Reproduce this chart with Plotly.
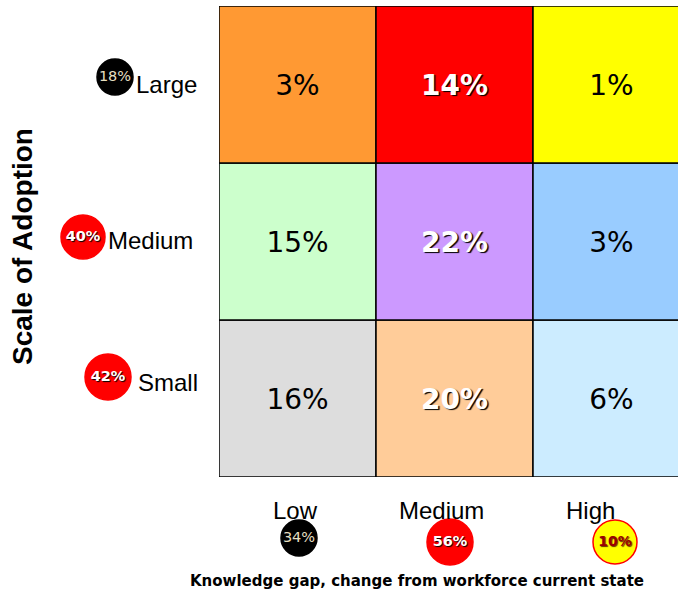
import plotly.graph_objects as go

# ---- data ----
rows = ["Small", "Medium", "Large"]          # bottom -> top
cols = ["Low", "Medium", "High"]
cell_values = [                               # rows bottom->top, cols left->right
    [16, 20, 6],
    [15, 22, 3],
    [3, 14, 1],
]
cell_colors = [
    ["#DDDDDD", "#FFCC99", "#CCECFF"],
    ["#CCFFCC", "#CC99FF", "#99CCFF"],
    ["#FF9933", "#FF0000", "#FFFF00"],
]
white_cells = {(2, 1), (1, 1), (0, 1)}        # cells with white shadowed text

row_totals = [42, 40, 18]                     # Small, Medium, Large
col_totals = [34, 56, 10]                     # Low, Medium, High

W, H = 678, 592
fig = go.Figure()

# ---- grid cells ----
shapes = []
for r in range(3):
    for c in range(3):
        shapes.append(dict(type="rect", xref="x", yref="y", x0=c, x1=c + 1, y0=r, y1=r + 1,
                           fillcolor=cell_colors[r][c], line=dict(color="black", width=1.5),
                           layer="below"))

bx, by, bt, wx, wy, wt = [], [], [], [], [], []
for r in range(3):
    for c in range(3):
        if (r, c) in white_cells:
            wx.append(c + 0.5); wy.append(r + 0.48); wt.append(f"{cell_values[r][c]}%")
        else:
            bx.append(c + 0.5); by.append(r + 0.48); bt.append(f"{cell_values[r][c]}%")

fig.add_trace(go.Scatter(x=bx, y=by, text=bt, mode="text", hoverinfo="skip",
                         textfont=dict(family="DejaVu Sans", size=28, color="black"),
                         xaxis="x", yaxis="y", showlegend=False))
fig.add_trace(go.Scatter(x=wx, y=wy, text=wt, mode="text", hoverinfo="skip",
                         textfont=dict(family="DejaVu Sans", size=28, color="white", weight="bold",
                                       shadow="1.5px 1.5px 1px #000"),
                         xaxis="x", yaxis="y", showlegend=False))

# ---- bubbles (pixel overlay axes) ----
# row bubbles: Small, Medium, Large
row_bx = [108, 83, 115]
row_by = [377, 237, 77]
row_size = [46, 44, 36]
row_fill = ["#FF0000", "#FF0000", "#000000"]
col_bx = [299, 450, 615]
col_by = [538, 542, 542]
col_size = [36, 46, 44]
col_fill = ["#000000", "#FF0000", "#FFFF00"]
col_line = ["#000000", "#FF0000", "#FF0000"]

fig.add_trace(go.Scatter(x=row_bx + col_bx, y=row_by + col_by, mode="markers", hoverinfo="skip",
                         marker=dict(size=row_size + col_size, color=row_fill + col_fill, opacity=1,
                                     line=dict(color=row_fill + col_line, width=1.5)),
                         xaxis="x2", yaxis="y2", showlegend=False))

# bubble texts
def btxt(x, y, t, color, weight="normal", shadow="none", size=15):
    fig.add_trace(go.Scatter(x=[x], y=[y], text=[t], mode="text", hoverinfo="skip",
                             textfont=dict(family="DejaVu Sans", size=size, color=color,
                                           weight=weight, shadow=shadow),
                             xaxis="x2", yaxis="y2", showlegend=False))

btxt(row_bx[2], row_by[2], f"{row_totals[2]}%", "#E6DFC0", size=14.5)
btxt(row_bx[1], row_by[1], f"{row_totals[1]}%", "white", "bold", "1px 1px 1px #000", 14.5)
btxt(row_bx[0], row_by[0], f"{row_totals[0]}%", "white", "bold", "1px 1px 1px #000", 14.5)
btxt(col_bx[0], col_by[0], f"{col_totals[0]}%", "#E6DFC0", size=14.5)
btxt(col_bx[1], col_by[1], f"{col_totals[1]}%", "white", "bold", "1px 1px 1px #000", 14.5)
btxt(col_bx[2], col_by[2], f"{col_totals[2]}%", "#990000", "bold", "1px 1px 1px #663300", 14)

# ---- category labels ----
ann = []
row_lx = [200, 195, 199]   # right edges of row labels
row_ly = [382, 240, 84]
for i, name in enumerate(rows):
    ann.append(dict(xref="x2", yref="y2", x=row_lx[i], y=row_ly[i], text=name, showarrow=False,
                    xanchor="right", yanchor="middle",
                    font=dict(family="Liberation Sans, Arial", size=24, color="black")))
col_lx = [295, 441, 590]
for i, name in enumerate(cols):
    ann.append(dict(xref="x2", yref="y2", x=col_lx[i], y=510, text=name, showarrow=False,
                    xanchor="center", yanchor="middle",
                    font=dict(family="Liberation Sans, Arial", size=24, color="black")))

ann.append(dict(xref="x2", yref="y2", x=417, y=581, text="Knowledge gap, change from workforce current state",
                showarrow=False, xanchor="center", yanchor="middle",
                font=dict(family="DejaVu Sans", size=15, color="black", weight="bold")))
ann.append(dict(xref="x2", yref="y2", x=22, y=247, text="Scale of Adoption", textangle=-90,
                showarrow=False, xanchor="center", yanchor="middle",
                font=dict(family="Liberation Sans, Arial", size=28, color="black", weight="bold")))

x0px, y0px, y1px = 219, 6, 477
colw = (y1px - y0px) / 3
fig.update_layout(
    width=W, height=H,
    margin=dict(l=0, r=0, t=0, b=0),
    paper_bgcolor="white", plot_bgcolor="rgba(0,0,0,0)",
    shapes=shapes, annotations=ann,
    xaxis=dict(domain=[x0px / W, 1], range=[0, (W - x0px) / colw], visible=False, fixedrange=True),
    yaxis=dict(domain=[1 - y1px / H, 1 - y0px / H], range=[0, 3], visible=False, fixedrange=True),
    xaxis2=dict(domain=[0, 1], range=[0, W], visible=False, anchor="y2", fixedrange=True),
    yaxis2=dict(domain=[0, 1], range=[H, 0], visible=False, anchor="x2", fixedrange=True),
)

fig.write_html("out.html")
